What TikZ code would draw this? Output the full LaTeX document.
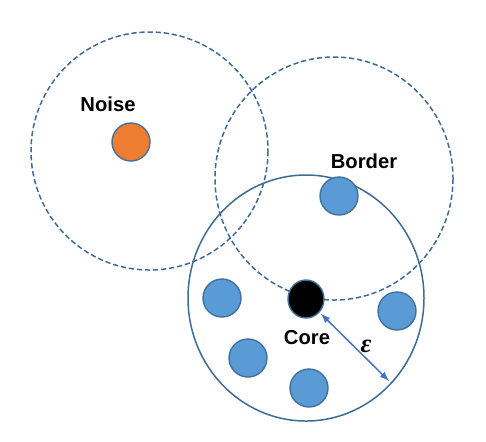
\documentclass[tikz,border=0pt]{standalone}
\usepackage{fontspec}
\setmainfont{Liberation Sans}
\newfontfamily\epsfont{Liberation Serif}
\usepackage{amsmath}
\usepackage{xcolor}
\usetikzlibrary{shapes.geometric}
\definecolor{ptblue}{HTML}{5B9BD5}
\definecolor{ptedge}{HTML}{41719C}
\definecolor{ptorange}{HTML}{ED7D31}
\definecolor{rim}{HTML}{3E6A96}
\definecolor{arrowblue}{HTML}{4472C4}

\begin{document}
\begin{tikzpicture}[x=0.02cm,y=-0.02cm]
\useasboundingbox (0,0) rectangle (486,441);
% neighbourhoods
\draw[rim,line width=0.85pt,dashed,dash pattern=on 3pt off 1.6pt] (149.5,151) ellipse (118.5 and 119);
\draw[rim,line width=0.85pt,dashed,dash pattern=on 3pt off 1.6pt] (334,178.5) ellipse (119 and 121.5);
\draw[rim,line width=0.85pt] (306,298) ellipse (118 and 123);
% points
\node[circle,draw=ptedge,fill=ptorange,line width=0.8pt,minimum size=38*0.02cm,inner sep=0] (noise) at (131,142) {};
\node[circle,draw=ptedge,fill=ptblue,line width=0.8pt,minimum size=38*0.02cm,inner sep=0] (border) at (339,196) {};
\node[ellipse,draw=ptedge,fill=black,line width=0.8pt,minimum width=36*0.02cm,minimum height=38*0.02cm,inner sep=0] (core) at (306,299) {};
\node[circle,draw=ptedge,fill=ptblue,line width=0.8pt,minimum size=38*0.02cm,inner sep=0] (p1) at (222,298) {};
\node[circle,draw=ptedge,fill=ptblue,line width=0.8pt,minimum size=38*0.02cm,inner sep=0] (p2) at (397,311) {};
\node[circle,draw=ptedge,fill=ptblue,line width=0.8pt,minimum size=38*0.02cm,inner sep=0] (p3) at (248,358) {};
\node[circle,draw=ptedge,fill=ptblue,line width=0.8pt,minimum size=38*0.02cm,inner sep=0] (p4) at (309,388) {};
% labels
\node[font=\fontsize{11.5}{13}\selectfont\bfseries,inner sep=0] (noiselbl) at (108,104) {Noise};
\node[font=\fontsize{11.5}{13}\selectfont\bfseries,inner sep=0] (borderlbl) at (364,161) {Border};
\node[font=\fontsize{11.5}{13}\selectfont\bfseries,inner sep=0] (corelbl) at (307,338) {Core};
% radius
\coordinate (epsend) at (389,381);
\draw[arrowblue,line width=0.85pt,>=latex,<->,shorten <=1pt] (core) -- (epsend);
\node[font=\epsfont\fontsize{15}{17}\selectfont\bfseries\itshape,inner sep=0] (epslbl) at (366,346) {ε};
\end{tikzpicture}
\end{document}
